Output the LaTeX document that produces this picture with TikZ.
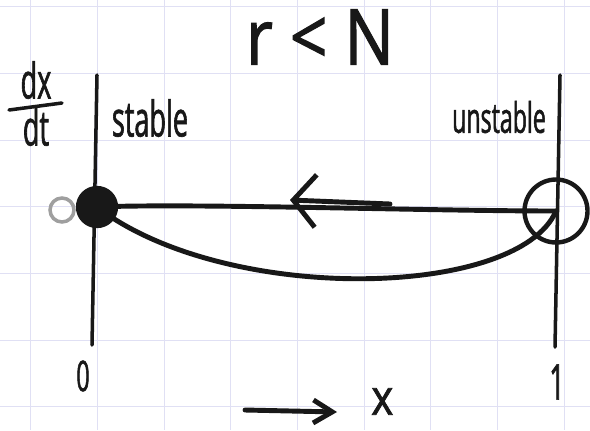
\documentclass[tikz,border=0pt]{standalone}
\usepackage{fontspec}
\setmainfont{Open Sans}[FakeStretch=0.55, FakeBold=1.2]
\newfontfamily\titlefont{Open Sans}[FakeStretch=0.85, FakeBold=1.5]
\usetikzlibrary{arrows.meta, positioning}
\definecolor{gridcol}{RGB}{224,224,244}
\definecolor{ink}{RGB}{24,24,24}

\begin{document}
\begin{tikzpicture}[x=0.02cm, y=-0.02cm,
  gridline/.style={gridcol, line width=0.6pt},
  axis/.style={ink, line width=2pt, line cap=round},
  curve/.style={ink, line width=2.8pt, line cap=round},
  lbl/.style={ink, inner sep=0pt, font=\fontsize{28}{30}\selectfont},
  fixpt/.style={circle, draw=ink, line width=2.5pt, inner sep=0pt},
  flow/.style={-{Straight Barb[length=4.5mm, width=10.5mm]}, curve}
]
\useasboundingbox (0,0) rectangle (590,430);
% Grid paper
\fill[white] (0,0) rectangle (590,430);
\foreach \gx in {0,...,8} \draw[gridline] (30.7+66.7*\gx,0) -- (30.7+66.7*\gx,430);
\foreach \gy in {0,...,6} \draw[gridline] (0,6.7+66.7*\gy) -- (590,6.7+66.7*\gy);

% Axes
\coordinate (ltop) at (97,75);
\coordinate (lbot) at (92,345);
\coordinate (rtop) at (560,75);
\coordinate (rbot) at (555,347);
\draw[axis] (ltop) -- (lbot);
\draw[axis] (rtop) -- (rbot);

% Fixed points
\node[fixpt, fill=ink, minimum size=0.74cm, line width=3pt] (stab) at (97,207) {};
\node[fixpt, minimum size=1.26cm] (unst) at (556,211) {};
\node[circle, draw=gray!75, line width=2pt, minimum size=0.48cm, inner sep=0pt] (zlbl) at (62,210) {};

% Flow curves
\draw[curve] (stab.center) .. controls (190,203) and (430,211) .. (unst.center);
\draw[curve] (stab.center) .. controls (225,305) and (518,299) .. (unst.center);
\coordinate (flowtail) at (390,204);
\coordinate (flowtip) at (290,200);
\draw[flow] (flowtail) -- (flowtip);

% Labels
\node[lbl, font=\titlefont\fontsize{44}{48}\selectfont] (title) at (320,37) {r < N};
\node[lbl] (dx) at (36,80) {dx};
\node[lbl] (dt) at (36,127) {dt};
\coordinate (barl) at (9,110);
\coordinate (barr) at (62,103);
\draw[axis] (barl) -- (barr);
\node[lbl] (stlbl) at (150,118) {stable};
\node[lbl, font=\fontsize{24}{26}\selectfont] (unlbl) at (499,117) {unstable};
\node[lbl, font=\fontsize{24}{26}\selectfont] (lo) at (83,376) {0};
\node[lbl, font=\fontsize{28}{30}\selectfont] (hi) at (557,382) {1};

% x direction
\coordinate (xtail) at (245,410);
\coordinate (xhead) at (337,412);
\draw[curve, -{Straight Barb[length=3.8mm, width=4.6mm]}] (xtail) -- (xhead);
\node[lbl, font=\titlefont\fontsize{28}{30}\selectfont, right=0.68cm of xhead, yshift=6pt] (xlbl) {x};
\end{tikzpicture}
\end{document}
